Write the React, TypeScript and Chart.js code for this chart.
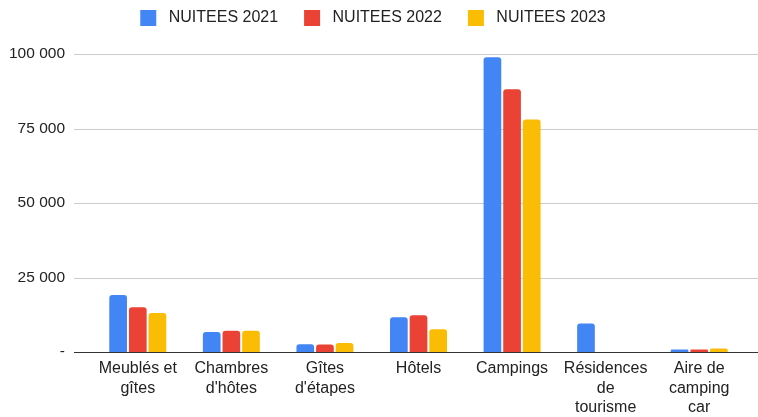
import React, { useEffect, useRef } from "react";
import { Chart, registerables } from "chart.js";

Chart.register(...registerables);

const categories: (string | string[])[] = [
  ["Meublés et", "gîtes"],
  ["Chambres", "d'hôtes"],
  ["Gîtes", "d'étapes"],
  "Hôtels",
  "Campings",
  ["Résidences", "de", "tourisme"],
  ["Aire de", "camping", "car"],
];

const seriesLabels = ["NUITEES 2021", "NUITEES 2022", "NUITEES 2023"];
const nuitees2021 = [19100, 6700, 2600, 11700, 98900, 9600, 800];
const nuitees2022 = [15000, 7100, 2500, 12300, 88200, 0, 800];
const nuitees2023 = [13100, 7100, 3000, 7600, 78000, 0, 1200];
const seriesColors = ["#4285F4", "#EA4335", "#FBBC04"];

const yTickValues = [0, 25000, 50000, 75000, 100000];
const yTickLabels = ["-", "25 000", "50 000", "75 000", "100 000"];

const FONT = "'Liberation Sans', Arial, sans-serif";
const TEXT = "#222222";

const gridPlugin = {
  id: "fullGrid",
  beforeDatasetsDraw(chart: any) {
    const { ctx, chartArea, scales } = chart;
    const y = scales.y;
    ctx.save();
    ctx.lineWidth = 1;
    y.ticks.forEach((t: any) => {
      if (t.value === 0) return;
      const py = Math.round(y.getPixelForValue(t.value)) + 0.5;
      ctx.strokeStyle = "#cccccc";
      ctx.beginPath();
      ctx.moveTo(chartArea.left - 17, py);
      ctx.lineTo(chart.width, py);
      ctx.stroke();
    });
    ctx.restore();
  },
  afterDatasetsDraw(chart: any) {
    const { ctx, chartArea, scales } = chart;
    const py = Math.round(scales.y.getPixelForValue(0)) + 0.5;
    ctx.save();
    ctx.lineWidth = 1;
    ctx.strokeStyle = "#333333";
    ctx.beginPath();
    ctx.moveTo(chartArea.left - 17, py);
    ctx.lineTo(chart.width, py);
    ctx.stroke();
    ctx.restore();
  },
};

export default function App() {
  const ref = useRef<HTMLCanvasElement>(null);

  useEffect(() => {
    if (!ref.current) return;
    const values = [nuitees2021, nuitees2022, nuitees2023];
    const chart = new Chart(ref.current, {
      type: "bar",
      data: {
        labels: categories,
        datasets: seriesLabels.map((label, i) => ({
          label,
          data: values[i],
          backgroundColor: seriesColors[i],
          borderRadius: { topLeft: 3, topRight: 3, bottomLeft: 0, bottomRight: 0 },
          borderSkipped: "bottom",
          categoryPercentage: 0.63,
          barPercentage: 0.9,
        })),
      },
      options: {
        responsive: false,
        animation: false,
        layout: { padding: { top: -16, right: 12, left: 0, bottom: 0 } },
        plugins: {
          tooltip: { enabled: false },
          legend: {
            position: "top",
            labels: {
              boxWidth: 16,
              boxHeight: 16,
              padding: 26,
              color: TEXT,
              font: { family: FONT, size: 16 },
              generateLabels: (c: any) => {
                const items = Chart.defaults.plugins.legend.labels.generateLabels(c);
                return items.map((it: any) => ({ ...it, text: " " + it.text, lineWidth: 0 }));
              },
            },
          },
          subtitle: {
            display: true,
            text: "",
            weight: 500,
            padding: 0,
            font: { size: 18, lineHeight: 1 },
          } as any,
        },
        scales: {
          x: {
            grid: { display: false, drawTicks: false },
            border: { display: false },
            ticks: {
              color: TEXT,
              font: { family: FONT, size: 16, lineHeight: 1.22 },
              padding: 7,
              maxRotation: 0,
              autoSkip: false,
            },
            afterFit: (s: any) => {
              s.height = 65;
            },
          },
          y: {
            min: 0,
            max: 100000,
            grid: { display: false, drawTicks: false },
            border: { display: false },
            afterBuildTicks: (s: any) => {
              s.ticks = yTickValues.map((v) => ({ value: v }));
            },
            ticks: {
              color: TEXT,
              font: { family: FONT, size: 15.5 },
              padding: 26,
              callback: (v: any) => {
                const i = yTickValues.indexOf(Number(v));
                return i >= 0 ? yTickLabels[i] : "";
              },
            },
            afterFit: (s: any) => {
              s.width = 91;
            },
          },
        },
      },
      plugins: [gridPlugin],
    });
    return () => chart.destroy();
  }, []);

  return (
    <div style={{ position: "fixed", left: 0, top: 0, width: 758, height: 417, background: "#fff" }}>
      <canvas ref={ref} width={758} height={417} />
    </div>
  );
}
